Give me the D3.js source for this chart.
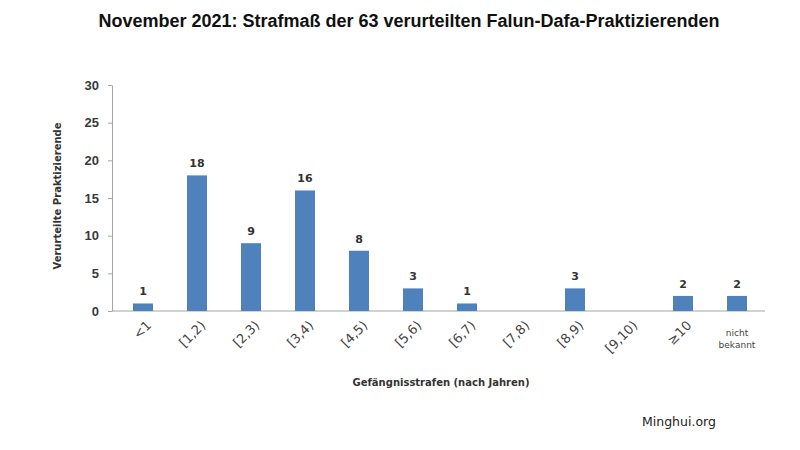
<!DOCTYPE html>
<html>
<head>
<meta charset="utf-8">
<script src="https://cdn.jsdelivr.net/npm/d3@7"></script>
<style>
  body { margin: 0; background: #fff; }
  svg { display: block; font-family: 'DejaVu Sans', sans-serif; }
</style>
</head>
<body>
<svg id="chart" width="800" height="450"></svg>
<script>
const categories = ['<1', '[1,2)', '[2,3)', '[3,4)', '[4,5)', '[5,6)', '[6,7)', '[7,8)', '[8,9)', '[9,10)', '≥10', 'nicht bekannt'];
const counts = [1, 18, 9, 16, 8, 3, 1, 0, 3, 0, 2, 2];
const yTicks = [0, 5, 10, 15, 20, 25, 30];

const title = 'November 2021: Strafmaß der 63 verurteilten Falun-Dafa-Praktizierenden';
const yTitle = 'Verurteilte Praktizierende';
const xTitle = 'Gefängnisstrafen (nach Jahren)';
const source = 'Minghui.org';

const plot = {left: 112, right: 765, top: 85, bottom: 311};

const svg = d3.select('#chart');

const x = d3.scaleBand()
  .domain(categories)
  .range([116, 764])
  .paddingInner(0.63)
  .paddingOuter(0.315);

const y = d3.scaleLinear()
  .domain([0, 30])
  .range([plot.bottom, plot.top]);

const rows = categories.map((c, i) => ({cat: c, value: counts[i]}));

// title
svg.append('text')
  .attr('x', 409)
  .attr('y', 27)
  .attr('text-anchor', 'middle')
  .style('font-family', 'Liberation Sans, Arial, sans-serif')
  .style('font-weight', 'bold')
  .style('font-size', '18px')
  .style('fill', '#111')
  .text(title);

// y axis
const yAxis = d3.axisLeft(y)
  .tickValues(yTicks)
  .tickSize(4)
  .tickSizeOuter(0)
  .tickPadding(9);

const axisY = svg.append('g')
  .attr('transform', `translate(${plot.left},0)`)
  .call(yAxis);

axisY.selectAll('path, line').attr('stroke', '#a6a6a6');
axisY.selectAll('text')
  .style('font-size', '13px')
  .style('font-weight', 'bold')
  .style('fill', '#3a3a3a');

// x axis line
svg.append('line')
  .attr('x1', plot.left)
  .attr('x2', plot.right)
  .attr('y1', y(0))
  .attr('y2', y(0))
  .attr('stroke', '#a6a6a6');

// bars
svg.selectAll('.bar')
    .data(rows)
  .enter().append('rect')
    .attr('class', 'bar')
    .attr('x', d => x(d.cat))
    .attr('y', d => y(d.value))
    .attr('width', x.bandwidth())
    .attr('height', d => y(0) - y(d.value))
    .style('fill', '#4f81bd');

// value labels
svg.selectAll('.value')
    .data(rows.filter(d => d.value > 0))
  .enter().append('text')
    .attr('class', 'value')
    .attr('x', d => x(d.cat) + x.bandwidth() / 2)
    .attr('y', d => y(d.value) - 8)
    .attr('text-anchor', 'middle')
    .style('font-size', '11px')
    .style('font-weight', 'bold')
    .style('fill', '#333')
    .text(d => d.value);

// category labels
categories.forEach(c => {
  const cx = x(c) + x.bandwidth() / 2;
  if (c === 'nicht bekannt') {
    const t = svg.append('text')
      .attr('text-anchor', 'middle')
      .style('font-size', '9px')
      .style('fill', '#444');
    t.append('tspan').attr('x', cx).attr('y', 336).text('nicht');
    t.append('tspan').attr('x', cx).attr('y', 348).text('bekannt');
  } else {
    svg.append('text')
      .attr('transform', `translate(${cx + 6},${y(0) + 12}) rotate(-45)`)
      .attr('text-anchor', 'end')
      .attr('dy', '0.35em')
      .style('font-size', '13px')
      .style('fill', '#444')
      .text(c);
  }
});

// axis titles
svg.append('text')
  .attr('transform', `translate(61,${(plot.top + plot.bottom) / 2 - 2}) rotate(-90)`)
  .attr('text-anchor', 'middle')
  .style('font-size', '10px')
  .style('font-weight', 'bold')
  .style('fill', '#333')
  .text(yTitle);

svg.append('text')
  .attr('x', 441)
  .attr('y', 386)
  .attr('text-anchor', 'middle')
  .style('font-size', '10px')
  .style('font-weight', 'bold')
  .style('fill', '#333')
  .text(xTitle);

svg.append('text')
  .attr('x', 642)
  .attr('y', 426)
  .style('font-size', '12.5px')
  .style('fill', '#222')
  .text(source);
</script>
</body>
</html>
